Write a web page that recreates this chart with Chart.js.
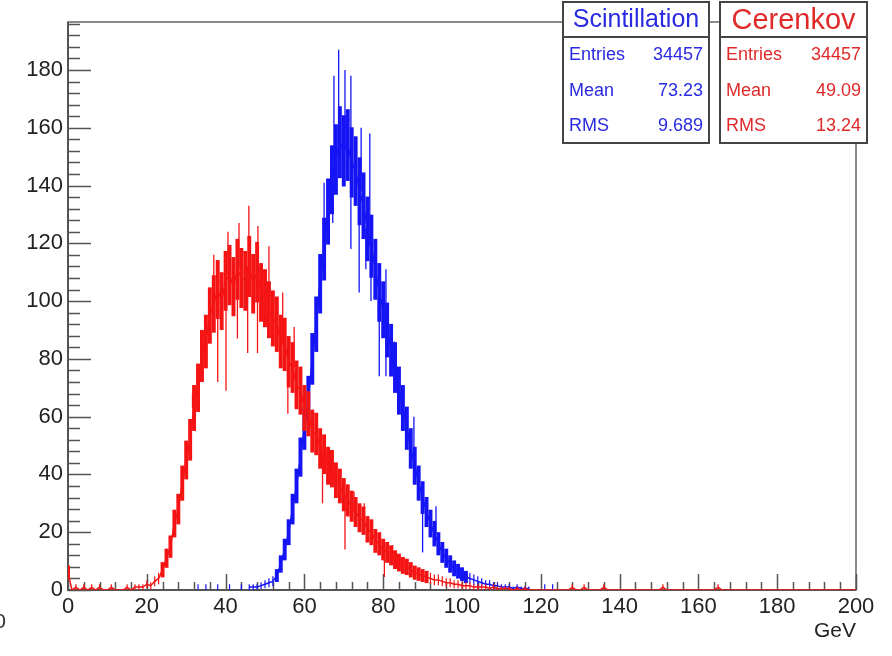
<!DOCTYPE html>
<html>
<head>
<meta charset="utf-8">
<title>Scintillation vs Cerenkov</title>
<script src="https://cdn.jsdelivr.net/npm/chart.js@4.4.1/dist/chart.umd.min.js"></script>
<style>
  html, body { margin: 0; padding: 0; background: #fff; }
  #wrap { width: 892px; height: 656px; }
</style>
</head>
<body>
<div id="wrap"><canvas id="energy_chart" width="892" height="656"></canvas></div>
<script>
// axis ranges and tick labels (GeV on x, counts per bin on y)
const x_min = 0;
const x_max = 200;
const y_max = 196.6;
const x_ticks = [0, 20, 40, 60, 80, 100, 120, 140, 160, 180, 200];
const y_ticks = [0, 20, 40, 60, 80, 100, 120, 140, 160, 180];
const minor_step = 4;
const bin_width = 1;

// Cerenkov histogram, bins starting at 0 GeV
const ceren_start = 0;
const ceren_values = [
  6, 0, 1, 0, 1, 0, 1, 0, 1, 0,
  0, 1, 0, 0, 0, 1, 0, 1, 1, 1,
  2, 1.5, 3, 4, 7, 11, 15, 23, 28, 37,
  45, 52, 63, 70, 81, 86, 95, 99, 104, 100,
  107, 109, 105, 111, 108, 107, 112, 106, 110, 103,
  101, 97, 94, 92, 86, 85, 79, 77, 71, 69,
  63, 61, 55, 54, 49, 47, 43, 42, 38, 36,
  33, 31, 29, 27, 25, 24, 21, 20, 17, 16,
  14, 13, 12, 10.5, 9.5, 8.5, 8, 7, 6, 5.5,
  5, 4.5, 4, 3.5, 3.5, 3, 2.5, 2.5, 2, 2,
  1.5, 1.5, 1.5, 1, 1, 1, 1, 0.5, 1, 0.5,
  0.5, 0.5, 0.5, 0, 0.5, 0, 0.5, 0, 0, 0,
  0, 0, 0, 0, 0, 0, 0, 0, 1, 0,
  0, 1, 0, 0, 0, 0, 1, 0, 0, 0,
  0, 0, 0, 0, 0, 0, 0, 0, 0, 0,
  0, 1, 0, 0, 0, 0, 0, 0, 0, 0,
  0, 0, 0, 0, 0, 1, 0, 0, 0, 0,
  0, 0, 0, 0, 0, 0, 0, 0, 0, 0,
  0, 0, 0, 0, 0, 0, 0, 0, 0, 0,
  0, 0, 0, 0, 0, 0, 0, 0, 0, 0,
  0
];
// single-bin fluctuations sticking out of the band: [GeV, tip value]
const ceren_spikes = [
  [31.6, 68], [33.8, 85.5], [37, 116], [40.6, 124], [43.4, 127], [45.9, 133],
  [48.2, 126], [51, 119], [54.5, 103], [57.4, 91], [72.6, 34], [75.2, 30], [82.4, 15.6],
  [38, 72], [40.1, 69], [43, 87], [45.6, 82], [48.1, 82], [55.8, 61], [64.6, 30],
  [70.3, 14], [80.3, 4.5]
];

// Scintillation histogram, bins starting at 30 GeV (empty bins are null)
const scint_start = 30;
const scint_values = [
  null, null, null, 1, null, 1, null, null, 1, null,
  null, 1, null, null, 1, null, 1, 1, 1, 1.5,
  2, 2.5, 3, 5, 9, 14, 20, 28, 36, 46,
  56, 66, 80, 92, 106, 118, 131, 142, 149, 155,
  152, 154, 148, 145, 138, 133, 125, 119, 111, 103,
  97, 90, 83, 77, 69, 63, 56, 49, 43, 37,
  32, 27, 23, 19.5, 16, 13, 11, 9, 7.5, 6.5,
  5.5, 4.5, 4, 3.5, 3, 2.5, 2, 2, 1.5, 1.5,
  1, 1, 1, 0.5, 1, 0.5, 0.5, 0.5, null, null,
  null, 1, null, 1, null, null
];
const scint_spikes = [
  [65, 141], [67.5, 178], [68.7, 187], [70.3, 180], [71.8, 178], [74.4, 160],
  [76.6, 158], [80.7, 111], [82.8, 86], [87.8, 60], [93.4, 29],
  [67.2, 127], [71.8, 118], [73.9, 103], [75.6, 111], [76.9, 100], [79, 74],
  [80.7, 74], [90, 13], [100, 4.5]
];

// stats boxes
const stats_titles = ['Scintillation', 'Cerenkov'];
const stats_labels = ['Entries', 'Mean', 'RMS'];
const scint_stats = ['34457', '73.23', '9.689'];
const ceren_stats = ['34457', '49.09', '13.24'];

const blue = '#1414f5';
const red = '#f51414';
const font_family = "'Liberation Sans', Arial, Helvetica, sans-serif";

function toPoints(start, values) {
  const pts = [];
  for (var i = 0; i < values.length; i++) {
    pts.push({ x: start + i * bin_width, y: values[i] });
  }
  return pts;
}

// vertical error bars (+- sqrt(N)) like ROOT's "E" option, plus the thin spikes
const error_bars = {
  id: 'error_bars',
  afterDatasetDraw(chart, args) {
    const ctx = chart.ctx;
    const ds = chart.data.datasets[args.index];
    const xs = chart.scales.x;
    const ys = chart.scales.y;
    const a = chart.chartArea;
    const bin_px = xs.getPixelForValue(bin_width) - xs.getPixelForValue(0);
    ctx.save();
    ctx.beginPath();
    ctx.rect(a.left, a.top, a.right - a.left, a.bottom - a.top);
    ctx.clip();
    ctx.strokeStyle = ds.borderColor;
    args.meta.data.forEach(function (pt, i) {
      const v = ds.data[i].y;
      if (v == null || v <= 0) return;
      const e = Math.sqrt(v);
      ctx.lineWidth = v > 4 ? bin_px : 1.2;
      ctx.beginPath();
      ctx.moveTo(pt.x, ys.getPixelForValue(v + e));
      ctx.lineTo(pt.x, ys.getPixelForValue(Math.max(0, v - e)));
      ctx.stroke();
    });
    // thin single-bin spikes
    ctx.lineWidth = 1.3;
    (ds.spikes || []).forEach(function (s) {
      const idx = Math.round((s[0] - ds.start) / bin_width);
      const base = ds.data[idx] ? ds.data[idx].y : 0;
      const px = xs.getPixelForValue(s[0]);
      ctx.beginPath();
      ctx.moveTo(px, ys.getPixelForValue(base || 0));
      ctx.lineTo(px, ys.getPixelForValue(s[1]));
      ctx.stroke();
    });
    ctx.restore();
  }
};

// ROOT style frame with inward ticks
const root_frame = {
  id: 'root_frame',
  beforeDatasetsDraw(chart) {
    const ctx = chart.ctx;
    const a = chart.chartArea;
    const xs = chart.scales.x;
    const ys = chart.scales.y;
    ctx.save();
    ctx.strokeStyle = '#666';
    ctx.lineWidth = 1.5;
    ctx.strokeRect(a.left, a.top, a.right - a.left, a.bottom - a.top);
    ctx.strokeStyle = '#555';
    ctx.lineWidth = 2;
    ctx.beginPath();
    ctx.moveTo(a.left, a.top);
    ctx.lineTo(a.left, a.bottom);
    ctx.lineTo(a.right, a.bottom);
    ctx.stroke();
    ctx.lineWidth = 1.5;
    ctx.beginPath();
    for (var v = x_min; v <= x_max; v += minor_step) {
      const px = Math.round(xs.getPixelForValue(v)) + 0.5;
      const len = x_ticks.includes(v) ? 16 : 8;
      ctx.moveTo(px, a.bottom);
      ctx.lineTo(px, a.bottom - len);
    }
    for (var w = 0; w <= y_max; w += minor_step) {
      const py = Math.round(ys.getPixelForValue(w)) + 0.5;
      const len = y_ticks.includes(w) ? 23 : 12;
      ctx.moveTo(a.left, py);
      ctx.lineTo(a.left + len, py);
    }
    ctx.stroke();
    ctx.restore();
  }
};

// the two stats boxes in the top right corner
const stats_boxes = {
  id: 'stats_boxes',
  afterDraw(chart) {
    const ctx = chart.ctx;
    const boxes = [
      { left: 563, width: 146, colour: '#2a2ae0', title_size: 25, values: scint_stats },
      { left: 720, width: 147, colour: '#e02a2a', title_size: 29, values: ceren_stats }
    ];
    const top = 2, height = 141, title_h = 35;
    const rows = [55, 91, 126];
    ctx.save();
    boxes.forEach(function (b, k) {
      ctx.fillStyle = '#fff';
      ctx.fillRect(b.left, top, b.width, height);
      ctx.strokeStyle = '#444';
      ctx.lineWidth = 2;
      ctx.strokeRect(b.left, top, b.width, height);
      ctx.beginPath();
      ctx.moveTo(b.left, top + title_h);
      ctx.lineTo(b.left + b.width, top + title_h);
      ctx.stroke();
      ctx.fillStyle = b.colour;
      ctx.textBaseline = 'middle';
      ctx.textAlign = 'center';
      ctx.font = b.title_size + 'px ' + font_family;
      ctx.fillText(stats_titles[k], b.left + b.width / 2, top + title_h / 2 + 1);
      ctx.font = '18px ' + font_family;
      for (var r = 0; r < stats_labels.length; r++) {
        ctx.textAlign = 'left';
        ctx.fillText(stats_labels[r], b.left + 6, rows[r]);
        ctx.textAlign = 'right';
        ctx.fillText(b.values[r], b.left + b.width - 6, rows[r]);
      }
    });
    // clipped label remnant at the far left edge
    ctx.fillStyle = '#333';
    ctx.font = '21px ' + font_family;
    ctx.textAlign = 'right';
    ctx.fillText('0', 6, 622);
    ctx.restore();
  }
};

Chart.defaults.font.family = font_family;

const canvas = document.getElementById('energy_chart');
const chart = new Chart(canvas, {
  type: 'line',
  data: {
    datasets: [
      {
        label: stats_titles[1],
        data: toPoints(ceren_start, ceren_values),
        start: ceren_start,
        spikes: ceren_spikes,
        borderColor: red,
        borderWidth: 1.5,
        pointRadius: 0,
        tension: 0,
        fill: false
      },
      {
        label: stats_titles[0],
        data: toPoints(scint_start, scint_values),
        start: scint_start,
        spikes: scint_spikes,
        borderColor: blue,
        borderWidth: 1.5,
        pointRadius: 0,
        tension: 0,
        fill: false,
        spanGaps: false
      }
    ]
  },
  options: {
    responsive: false,
    animation: false,
    devicePixelRatio: 1,
    layout: { padding: { top: 22, right: 36, left: 0, bottom: 0 } },
    plugins: {
      legend: { display: false },
      tooltip: { enabled: false }
    },
    scales: {
      x: {
        type: 'linear',
        min: x_min,
        max: x_max,
        afterBuildTicks: function (scale) {
          scale.ticks = x_ticks.map(function (v) { return { value: v }; });
        },
        afterFit: function (scale) { scale.height = 66; },
        grid: { display: false, drawTicks: false },
        border: { display: false },
        ticks: { color: '#222', font: { size: 22 }, padding: 4, maxRotation: 0, autoSkip: false },
        title: {
          display: true,
          text: 'GeV',
          align: 'end',
          color: '#222',
          font: { size: 21 },
          padding: { top: 0, bottom: 12 }
        }
      },
      y: {
        type: 'linear',
        min: 0,
        max: y_max,
        afterBuildTicks: function (scale) {
          scale.ticks = y_ticks.map(function (v) { return { value: v }; });
        },
        afterFit: function (scale) { scale.width = 68; },
        grid: { display: false, drawTicks: false },
        border: { display: false },
        ticks: { color: '#222', font: { size: 22 }, padding: 5, autoSkip: false }
      }
    }
  },
  plugins: [root_frame, error_bars, stats_boxes]
});
</script>
</body>
</html>
